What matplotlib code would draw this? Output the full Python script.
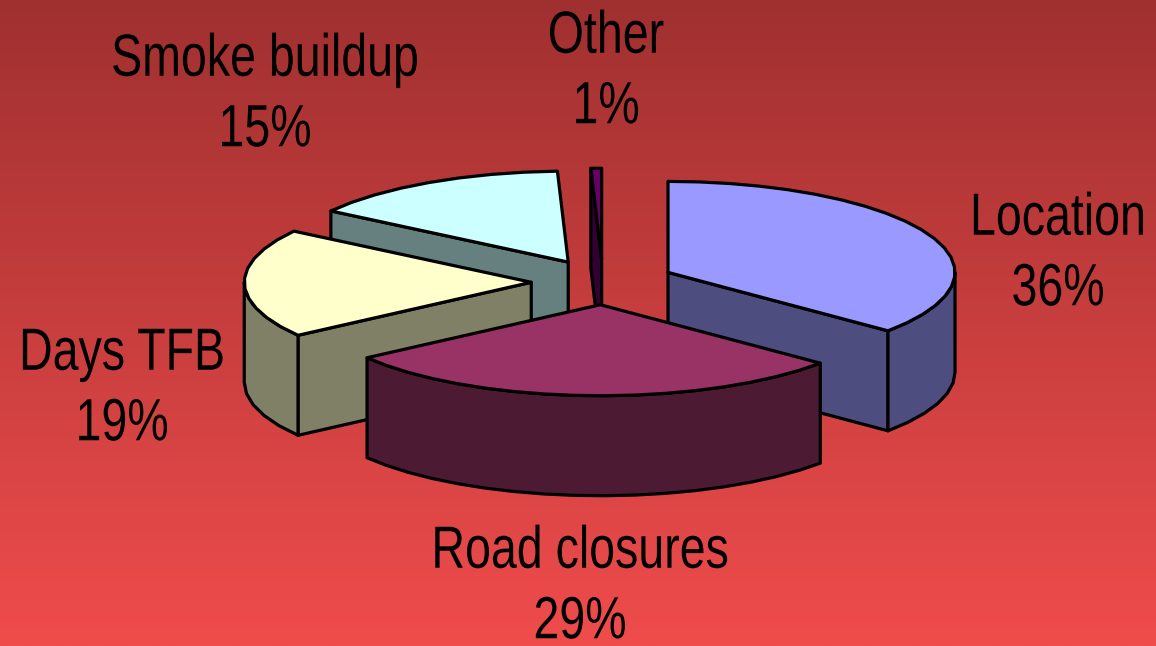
import numpy as np
import matplotlib
matplotlib.use('Agg')
import matplotlib.pyplot as plt
from matplotlib.colors import LinearSegmentedColormap
from matplotlib.patheffects import AbstractPathEffect
from matplotlib.transforms import Affine2D

# data, clockwise from 12 o'clock
categories = ['Location', 'Road closures', 'Days TFB', 'Smoke buildup', 'Other']
values = [36.1, 29.0, 19.4, 14.9, 0.6]

top_colors = ['#9999FF', '#993366', '#FFFFCC', '#CCFFFF', '#660066']
side_colors = ['#4D4D80', '#4D1A33', '#808066', '#668080', '#330033']

# pie geometry in pixels
cx, cy = 603, 282
rx, ry = 287, 91
depth = 100
explode = 0.25


class TallText(AbstractPathEffect):
    # the labels are a condensed face, stretch the glyphs up from their baseline
    def __init__(self, k):
        super().__init__()
        self.k = k

    def draw_path(self, renderer, gc, tpath, affine, rgbFace=None):
        renderer.draw_path(gc, tpath, Affine2D().scale(1, self.k) + affine, rgbFace)


plt.rcParams['font.family'] = ['Liberation Sans']

fig = plt.figure(figsize=(11.56, 6.46), dpi=100)
ax = fig.add_axes([0, 0, 1, 1])
ax.set_xlim(0, 1156)
ax.set_ylim(646, 0)
ax.axis('off')

# background gradient
cmap = LinearSegmentedColormap.from_list('bg', ['#A03030', '#F04C4C'])
ax.imshow(np.linspace(0, 1, 256).reshape(-1, 1), cmap=cmap, aspect='auto',
          extent=[0, 1156, 646, 0], zorder=0)


def arc(x0, y0, a1, a2):
    # coarse steps, the reference outline is visibly faceted
    n = max(2, int(abs(a1 - a2) / 6) + 1)
    t = np.radians(np.linspace(a1, a2, n))
    return x0 + rx * np.cos(t), y0 - ry * np.sin(t)


def draw_slice(i, a1, a2, z):
    # a1 > a2, going clockwise
    mid = np.radians((a1 + a2) / 2)
    x0 = cx + explode * rx * np.cos(mid)
    y0 = cy - explode * ry * np.sin(mid)
    edge = dict(edgecolor='black', linewidth=2.3, joinstyle='round')

    # cut faces that look towards the viewer
    for a, seen in [(a1, np.cos(np.radians(a1)) < 0), (a2, np.cos(np.radians(a2)) > 0)]:
        if seen:
            ex = x0 + rx * np.cos(np.radians(a))
            ey = y0 - ry * np.sin(np.radians(a))
            ax.fill([x0, ex, ex, x0], [y0, ey, ey + depth, y0 + depth],
                    facecolor=side_colors[i], zorder=z, **edge)

    # outer wall, only the part on the lower half of the ellipse
    lo = max(a2, -180)
    hi = min(a1, 0)
    if hi > lo:
        wx, wy = arc(x0, y0, hi, lo)
        ax.fill(np.r_[wx, wx[::-1]], np.r_[wy, wy[::-1] + depth],
                facecolor=side_colors[i], zorder=z + 0.1, **edge)

    # top
    tx, ty = arc(x0, y0, a1, a2)
    ax.fill(np.r_[x0, tx], np.r_[y0, ty], facecolor=top_colors[i], zorder=z + 0.2, **edge)


angles = 90 - np.cumsum([0] + values) * 3.6
order = [4, 3, 0, 2, 1]  # back to front
for z, i in enumerate(order):
    draw_slice(i, angles[i], angles[i + 1], z + 1)

# labels
label_pos = [(1058, 258), (580, 591), (122, 393), (265, 99), (606, 76)]
for name, v, pos in zip(categories, values, label_pos):
    ax.text(pos[0], pos[1], f'{name}\n{v:.0f}%', ha='center', va='center',
            fontsize=33.5, color='black', linespacing=1.78, zorder=10,
            path_effects=[TallText(1.28)])

fig.savefig('out.png', dpi=100)
